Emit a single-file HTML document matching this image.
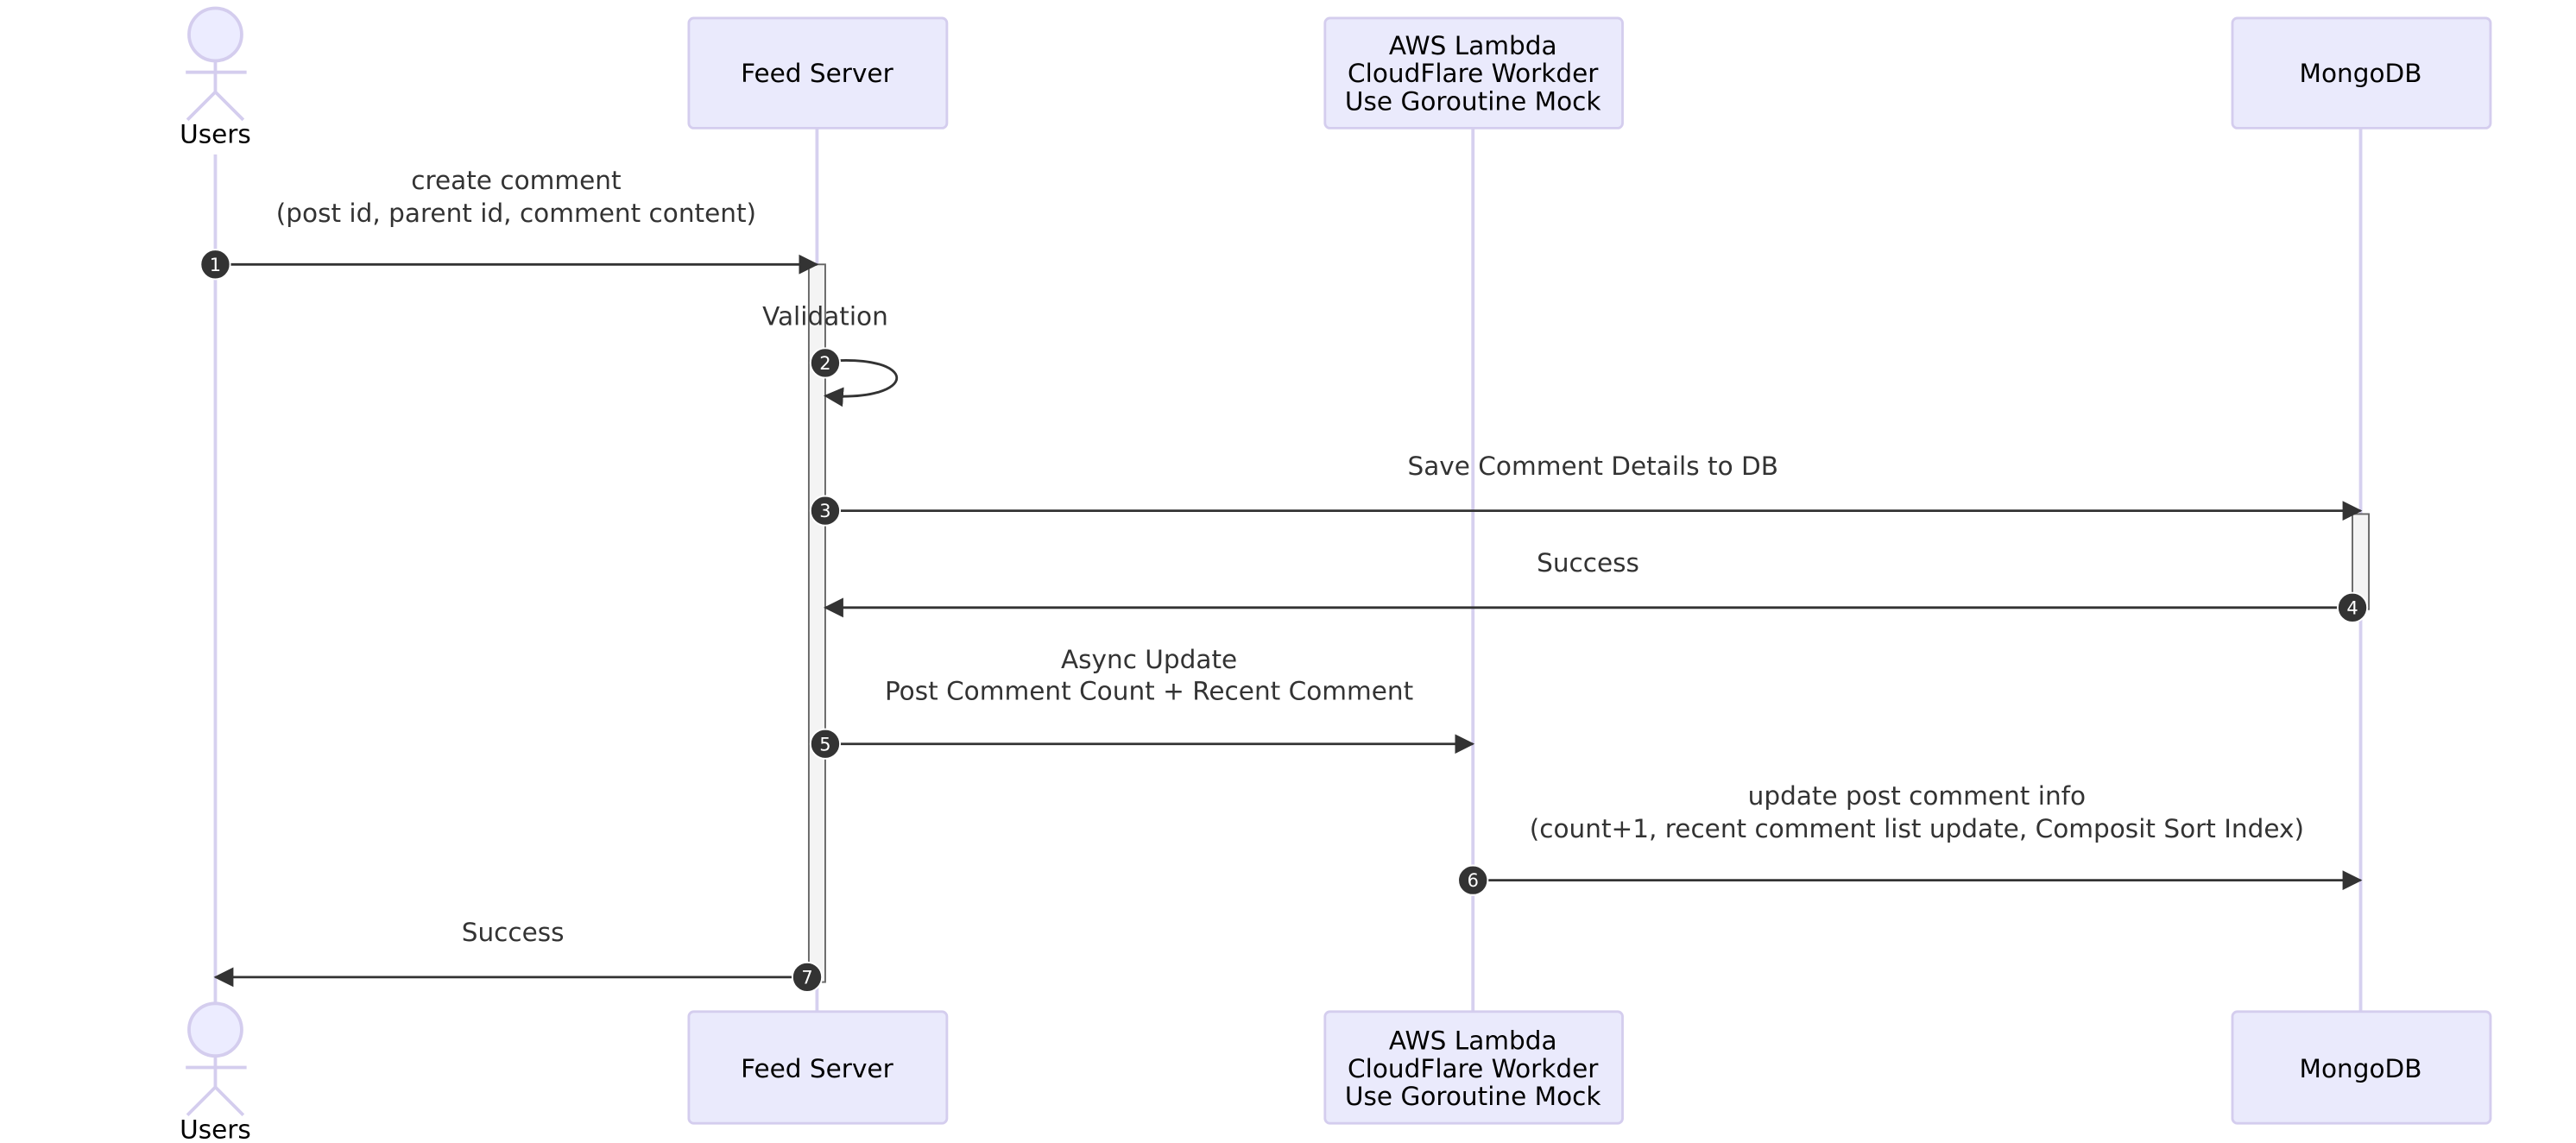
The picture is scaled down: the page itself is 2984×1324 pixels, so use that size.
<!DOCTYPE html>
<html><head><meta charset="utf-8"><style>html,body{margin:0;padding:0;background:#fff;}svg{display:block;}</style></head>
<body>
<svg width="2984" height="1324" viewBox="0 0 1567 696" preserveAspectRatio="none" xmlns="http://www.w3.org/2000/svg" font-family="'DejaVu Sans','Liberation Sans',sans-serif">
<defs>
<marker id="ah" markerWidth="12" markerHeight="12" refX="11" refY="6" orient="auto" markerUnits="userSpaceOnUse"><path d="M0,0 L12,6 L0,12 z" fill="#333"/></marker>
</defs>
<g stroke="#d6d0ef" stroke-width="2" fill="none">
<line x1="131" y1="94" x2="131" y2="612"/>
<line x1="497" y1="78" x2="497" y2="616"/>
<line x1="896" y1="78" x2="896" y2="616"/>
<line x1="1436" y1="78" x2="1436" y2="616"/>
</g>
<g stroke="#d4cdee" stroke-width="2" fill="#ececff">
<circle cx="131" cy="21" r="16"/>
<circle cx="131" cy="627" r="16"/>
</g>
<g stroke="#d4cdee" stroke-width="2" fill="none">
<line x1="131" y1="37" x2="131" y2="56"/><line x1="113" y1="44" x2="150" y2="44"/><polyline points="114,73 131,56 148,73"/>
<line x1="131" y1="643" x2="131" y2="662"/><line x1="113" y1="650" x2="150" y2="650"/><polyline points="114,679 131,662 148,679"/>
</g>
<g font-size="15.5" fill="#000" text-anchor="middle">
<text x="131" y="87">Users</text>
<text x="131" y="693">Users</text>
</g>
<g fill="#eaeafc" stroke="#d4cdee" stroke-width="1.5">
<rect x="419" y="11" width="157" height="67" rx="3"/>
<rect x="806" y="11" width="181" height="67" rx="3"/>
<rect x="1358" y="11" width="157" height="67" rx="3"/>
<rect x="419" y="616" width="157" height="68" rx="3"/>
<rect x="806" y="616" width="181" height="68" rx="3"/>
<rect x="1358" y="616" width="157" height="68" rx="3"/>
</g>
<g font-size="15.5" fill="#000" text-anchor="middle">
<text x="497" y="50">Feed Server</text>
<text x="896" y="33">AWS Lambda</text><text x="896" y="50">CloudFlare Workder</text><text x="896" y="67">Use Goroutine Mock</text>
<text x="1436" y="50">MongoDB</text>
<text x="497" y="656">Feed Server</text>
<text x="896" y="639">AWS Lambda</text><text x="896" y="656">CloudFlare Workder</text><text x="896" y="673">Use Goroutine Mock</text>
<text x="1436" y="656">MongoDB</text>
</g>
<rect x="492" y="161" width="10" height="437" fill="#f4f4f4" stroke="#666" stroke-width="1"/>
<rect x="1431" y="313" width="10" height="58" fill="#f4f4f4" stroke="#666" stroke-width="1"/>
<g stroke="#333" stroke-width="1.5" fill="none">
<line x1="131" y1="161" x2="497" y2="161" marker-end="url(#ah)"/>
<path d="M502,220 C560,215 560,245 502,241" marker-end="url(#ah)"/>
<line x1="502" y1="311" x2="1436" y2="311" marker-end="url(#ah)"/>
<line x1="1431" y1="370" x2="502" y2="370" marker-end="url(#ah)"/>
<line x1="502" y1="453" x2="896" y2="453" marker-end="url(#ah)"/>
<line x1="896" y1="536" x2="1436" y2="536" marker-end="url(#ah)"/>
<line x1="492" y1="595" x2="131" y2="595" marker-end="url(#ah)"/>
</g>
<g font-size="15.5" fill="#333" text-anchor="middle">
<text x="314" y="115">create comment</text>
<text x="314" y="135">(post id, parent id, comment content)</text>
<text x="502" y="198">Validation</text>
<text x="969" y="289">Save Comment Details to DB</text>
<text x="966" y="348">Success</text>
<text x="699" y="407">Async Update</text>
<text x="699" y="426">Post Comment Count + Recent Comment</text>
<text x="1166" y="490">update post comment info</text>
<text x="1166" y="510">(count+1, recent comment list update, Composit Sort Index)</text>
<text x="312" y="573">Success</text>
</g>
<g fill="#333" stroke="#fff" stroke-width="1">
<circle cx="131" cy="161" r="9"/><circle cx="502" cy="221" r="9"/><circle cx="502" cy="311" r="9"/>
<circle cx="1431" cy="370" r="9"/><circle cx="502" cy="453" r="9"/><circle cx="896" cy="536" r="9"/><circle cx="491" cy="595" r="9"/>
</g>
<g font-size="11" fill="#fff" text-anchor="middle">
<text x="131" y="165">1</text><text x="502" y="225">2</text><text x="502" y="315">3</text>
<text x="1431" y="374">4</text><text x="502" y="457">5</text><text x="896" y="540">6</text><text x="491" y="599">7</text>
</g>
</svg>
</body></html>
